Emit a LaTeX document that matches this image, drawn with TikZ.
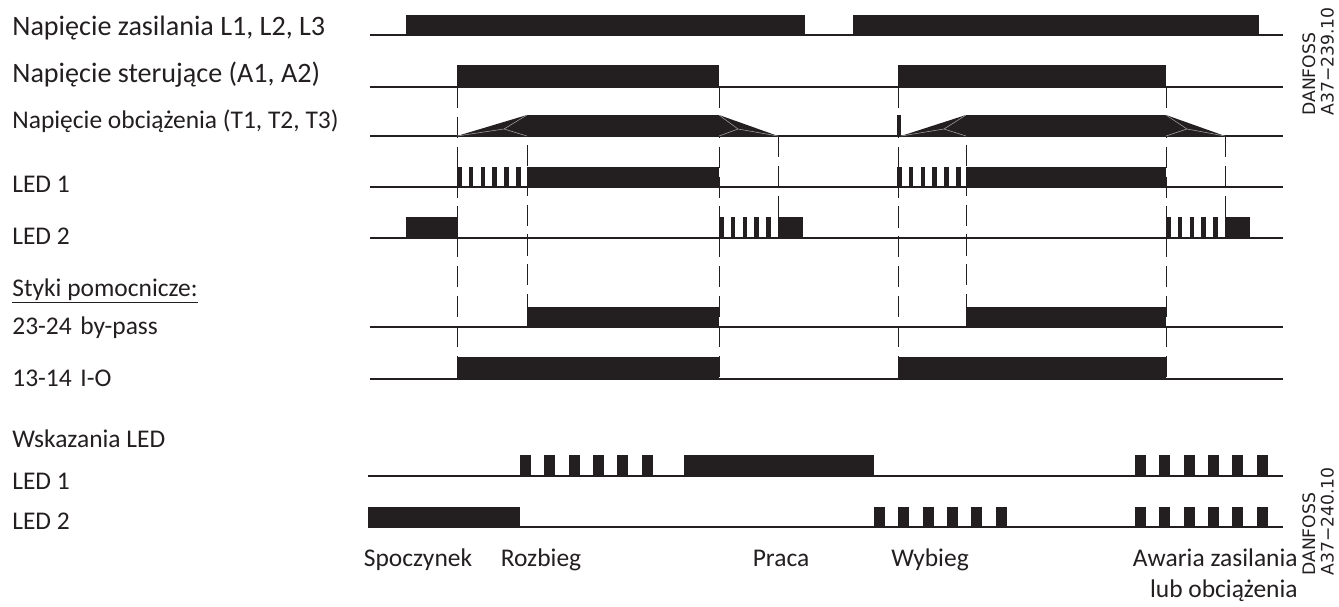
\documentclass[tikz,border=0pt]{standalone}
\usepackage{fontspec}
\setmainfont{Carlito}
\newfontfamily\tagfont{DejaVu Sans}
\definecolor{ink}{HTML}{231F20}
\tikzset{
  axisline/.style={draw=ink, line width=0.7pt},
  hi/.style={fill=ink},
  guide/.style={draw=ink, line width=0.5pt, dash pattern=on 12pt off 5pt},
  seam/.style={draw=gray!70, line width=0.3pt},
  label/.style={anchor=base west, inner sep=0pt, text=ink, font=\fontsize{16}{19}\selectfont},
  small label/.style={label, font=\fontsize{14.5}{17}\selectfont},
  state/.style={anchor=base, inner sep=0pt, text=ink, font=\fontsize{14.5}{17.5}\selectfont},
  tag/.style={rotate=90, anchor=north west, inner sep=0pt, align=left, text=ink, font=\tagfont\fontsize{9.8}{10.5}\selectfont}
}
\begin{document}
\begin{tikzpicture}[x=0.02cm, y=-0.02cm]
  \useasboundingbox (0,0) rectangle (1339,606);

  % Signal baselines
  \foreach \y in {35,87,136,187,238,327,379}
    \draw[axisline] (370,\y) -- (1283,\y);
  \foreach \y in {476,527}
    \draw[axisline] (368,\y) -- (1283,\y);

  % Guide lines
  \foreach \x/\ya/\yb in {457/87/379, 719/87/379, 898/87/379, 1166/87/379,
                          527/115/327, 966/115/327, 778/136/238, 1225/136/238}
    \draw[guide] (\x,\ya) -- (\x,\yb);

  % Supply voltage
  \fill[hi] (406,15) rectangle (805,35);
  \fill[hi] (853,15) rectangle (1259,35);

  % Control voltage
  \fill[hi] (457,65) rectangle (719,87);
  \fill[hi] (898,65) rectangle (1166,87);

  % Load voltage (soft start / soft stop)
  \fill[hi] (457,136) -- (527,115) -- (719,115) -- (778,136) -- cycle;
  \fill[hi] (901,136) -- (966,115) -- (1166,115) -- (1225,136) -- cycle;
  \fill[hi] (897,115) rectangle (901,136);
  \draw[seam] (457,136) -- (504,129) -- (527,115) (504,129) -- (527,136);
  \draw[seam] (778,136) -- (738,129) -- (719,115) (738,129) -- (719,136);
  \draw[seam] (901,136) -- (944,129) -- (966,115) (944,129) -- (966,136);
  \draw[seam] (1225,136) -- (1187,129) -- (1166,115) (1187,129) -- (1166,136);

  % LED 1
  \foreach \s in {457,897} {
    \foreach \i in {0,...,5}
      \fill[hi] ({\s+11.8*\i},167) rectangle ++(4.5,20);
  }
  \fill[hi] (527,167) rectangle (719,187);
  \fill[hi] (966,167) rectangle (1166,187);

  % LED 2
  \fill[hi] (406,217) rectangle (458,238);
  \foreach \s in {719,1166} {
    \foreach \i in {0,...,4}
      \fill[hi] ({\s+11.8*\i},217) rectangle ++(4.5,21);
  }
  \fill[hi] (778,217) rectangle (803,238);
  \fill[hi] (1225,217) rectangle (1250,238);

  % Auxiliary contacts
  \fill[hi] (527,307) rectangle (719,327);
  \fill[hi] (966,307) rectangle (1166,327);
  \fill[hi] (457,357) rectangle (719,379);
  \fill[hi] (898,357) rectangle (1166,379);

  % LED indications
  \foreach \s in {520,1135} {
    \foreach \i in {0,...,5}
      \fill[hi] ({\s+24.3*\i},455) rectangle ++(11,21);
  }
  \fill[hi] (684,455) rectangle (874,476);
  \fill[hi] (368,507) rectangle (520,527);
  \foreach \s in {874,1135} {
    \foreach \i in {0,...,5}
      \fill[hi] ({\s+24.3*\i},507) rectangle ++(11,20);
  }

  % Labels
  \node[label] (supply) at (12,35) {Napięcie zasilania L1, L2, L3};
  \node[label] (control) at (12,82) {Napięcie sterujące (A1, A2)};
  \node[small label] (load) at (12,128) {Napięcie obciążenia (T1, T2, T3)};
  \node[small label] (led1) at (12,192) {LED 1};
  \node[small label] (led2) at (12,244) {LED 2};
  \node[small label] (aux) at (12,296) {\underline{Styki pomocnicze:}};
  \node[small label] (bypassno) at (12,334) {23-24};
  \node[small label] (bypass) at (80,334) {by-pass};
  \node[small label] (iono) at (12,386) {13-14};
  \node[small label] (io) at (80,386) {I-O};
  \node[small label] (ind) at (12,447) {Wskazania LED};
  \node[small label] (indled1) at (12,489) {LED 1};
  \node[small label] (indled2) at (12,529) {LED 2};

  % States
  \node[state] (idle) at (418,566) {Spoczynek};
  \node[state] (ramp) at (541,566) {Rozbieg};
  \node[state] (run) at (781,566) {Praca};
  \node[state] (stop) at (930,566) {Wybieg};
  \node[state, anchor=base east, align=right] (fault) at (1298,597) {Awaria zasilania\\lub obciążenia};

  % Drawing numbers
  \node[tag] (tagA) at (1302,116) {DANFOSS\\A37−239.10};
  \node[tag] (tagB) at (1302,576) {DANFOSS\\A37−240.10};
\end{tikzpicture}
\end{document}
